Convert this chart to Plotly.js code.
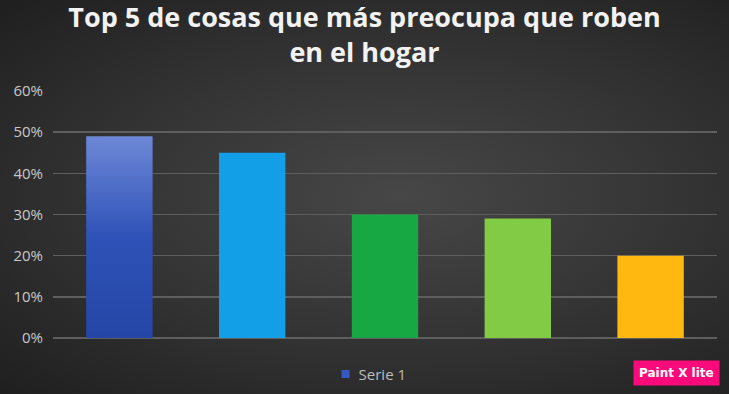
<!DOCTYPE html>
<html>
<head>
<meta charset="utf-8">
<script src="https://cdn.plot.ly/plotly-3.0.1.min.js"></script>
<style>
  html, body { margin: 0; padding: 0; }
  body {
    width: 729px; height: 394px; overflow: hidden;
    background: radial-gradient(ellipse at 55% 50%, #474747 0%, #363636 45%, #1f1f1f 100%);
  }
  #chart { width: 729px; height: 394px; }
</style>
</head>
<body>
<div id="chart"></div>
<script>
const categories = ['Cosa 1', 'Cosa 2', 'Cosa 3', 'Cosa 4', 'Cosa 5'];
const values = [0.49, 0.45, 0.30, 0.29, 0.20];
const seriesName = 'Serie 1';
const titleText = 'Top 5 de cosas que más preocupa que roben<br>en el hogar';
const tickValues = [0, 0.1, 0.2, 0.3, 0.4, 0.5, 0.6];
const tickLabels = ['0%', '10%', '20%', '30%', '40%', '50%', '60%'];

const barColors = ['#2f52b8', '#139fe8', '#18a843', '#82cb44', '#ffb80f'];

const trace = {
  type: 'bar',
  x: categories,
  y: values,
  name: seriesName,
  showlegend: true,
  marker: { color: barColors, line: { width: 0 } },
  hoverinfo: 'none'
};

const layout = {
  width: 729, height: 394,
  paper_bgcolor: 'rgba(0,0,0,0)',
  plot_bgcolor: 'rgba(0,0,0,0)',
  margin: { l: 53, r: 12, t: 91, b: 56, autoexpand: false },
  bargap: 0.5,
  title: {
    text: titleText,
    font: { family: 'Open Sans', size: 27, color: '#f2f2f2', weight: 'bold' },
    x: 0.5, xanchor: 'center', xref: 'container',
    y: 0.932, yanchor: 'top', yref: 'container'
  },
  xaxis: {
    showticklabels: false, showgrid: false, zeroline: false,
    showline: false, ticks: ''
  },
  yaxis: {
    range: [0, 0.6],
    tickvals: tickValues, ticktext: tickLabels,
    showgrid: true, gridcolor: '#5e5e5e', gridwidth: 1.5,
    zeroline: true, zerolinecolor: '#5e5e5e', zerolinewidth: 1.5,
    showline: false, ticks: '',
    tickfont: { family: 'Open Sans', size: 15, color: '#c8c8c8' },
    ticklabelstandoff: 9
  },
  legend: {
    orientation: 'h', x: 0.47, xanchor: 'center', y: -0.08, yanchor: 'top',
    font: { family: 'Open Sans', size: 15, color: '#bdbdbd' },
    itemwidth: 30, bgcolor: 'rgba(0,0,0,0)'
  },
  annotations: [{
    text: '<b>Paint X lite</b>', xref: 'paper', yref: 'paper',
    x: 1.004, y: -0.142, xanchor: 'right', yanchor: 'middle', showarrow: false,
    font: { family: 'DejaVu Sans', size: 12, color: '#ffffff' },
    bgcolor: '#fa0a7a', borderpad: 5
  }]
};

Plotly.newPlot('chart', [trace], layout, { displayModeBar: false, staticPlot: true }).then(function (gd) {
  const svgNS = 'http://www.w3.org/2000/svg';
  const svg = gd.querySelector('svg.main-svg');
  let defs = svg.querySelector('defs');
  if (!defs) { defs = document.createElementNS(svgNS, 'defs'); svg.insertBefore(defs, svg.firstChild); }
  const grad = document.createElementNS(svgNS, 'linearGradient');
  grad.setAttribute('id', 'bar1grad');
  grad.setAttribute('x1', '0'); grad.setAttribute('y1', '0');
  grad.setAttribute('x2', '0'); grad.setAttribute('y2', '1');
  [['0', '#6d88d6'], ['0.5', '#2f52b8'], ['1', '#2446a6']].forEach(function (s) {
    const st = document.createElementNS(svgNS, 'stop');
    st.setAttribute('offset', s[0]); st.setAttribute('stop-color', s[1]);
    grad.appendChild(st);
  });
  defs.appendChild(grad);
  const first = gd.querySelector('.barlayer .point path');
  if (first) first.style.fill = 'url(#bar1grad)';
  const lp = gd.querySelector('.legend .legendpoints path');
  if (lp) { lp.setAttribute('transform', 'translate(27,0) scale(0.67)'); lp.style.fill = '#3558c2'; }
});
</script>
</body>
</html>
